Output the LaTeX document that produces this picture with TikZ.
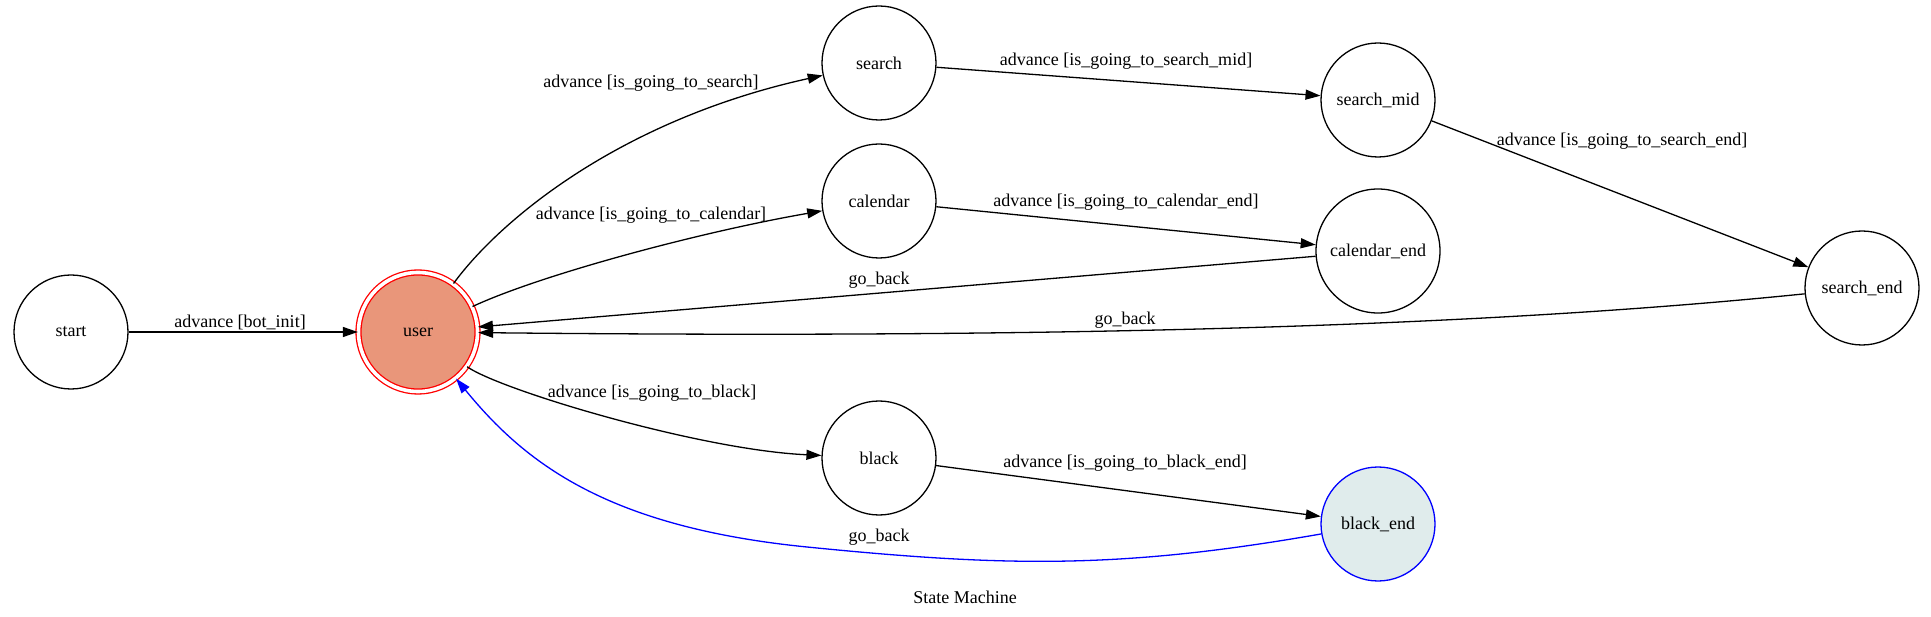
\documentclass[tikz,border=0pt]{standalone}
\usepackage{fontspec}
\setmainfont{Liberation Serif}
\usetikzlibrary{arrows.meta}
\definecolor{usrfill}{RGB}{233,150,122}
\definecolor{endfill}{RGB}{224,236,236}
\tikzset{%
    st/.style={circle, draw, line width=1.3pt, minimum size=114pt, inner sep=0pt, font=\fontsize{18}{20}\selectfont},
    acc/.style={st, draw=red, fill=usrfill, double=white, double distance=3.6pt, line width=1.3pt, minimum size=119pt},
    fin/.style={st, draw=blue, fill=endfill},
    lab/.style={inner sep=0pt, font=\fontsize{18}{20}\selectfont},
    tra/.style={line width=1.3pt, -{Triangle[length=15pt, width=10pt]}},
    trb/.style={tra, blue},
}
\begin{document}
\begin{tikzpicture}[x=1pt, y=-1pt]
    \useasboundingbox (0,0) rectangle (1931,617);
    \node[st] (start) at (71,332) {start};
    \node[acc] (user) at (418,332) {user};
    \node[st] (search) at (879,63) {search};
    \node[st] (calendar) at (879,201) {calendar};
    \node[st] (black) at (879,458) {black};
    \node[st] (smid) at (1378,100) {search\_mid};
    \node[st, minimum size=124pt] (cend) at (1378,251) {calendar\_end};
    \node[fin] (bend) at (1378,524) {black\_end};
    \node[st] (send) at (1862,288) {search\_end};
    \draw [tra] (start) -- (user);
    \draw [tra] (user) .. controls (500,220) and (620,120) .. (search);
    \draw [tra] (user) .. controls (540,275) and (700,232) .. (calendar);
    \draw [tra] (user) .. controls (500,390) and (700,450) .. (black);
    \draw [tra] (search) -- (smid);
    \draw [tra] (calendar) -- (cend);
    \draw [tra] (black) -- (bend);
    \draw [tra] (smid) -- (send);
    \draw [tra] (cend) -- (user);
    \draw [tra] (send) .. controls (1450,330) and (1000,338) .. (user);
    \draw [trb] (bend) .. controls (1121,569) and (1007,567) .. (807,547)
        .. controls (607,527) and (525,463) .. (user);
    \node[lab] (l1) at (240,322) {advance [bot\_init]};
    \node[lab] (l2) at (651,83) {advance [is\_going\_to\_search]};
    \node[lab] (l3) at (651,215) {advance [is\_going\_to\_calendar]};
    \node[lab] (l4) at (652,393) {advance [is\_going\_to\_black]};
    \node[lab] (l5) at (1126,61) {advance [is\_going\_to\_search\_mid]};
    \node[lab] (l6) at (1126,202) {advance [is\_going\_to\_calendar\_end]};
    \node[lab] (l7) at (1622,141) {advance [is\_going\_to\_search\_end]};
    \node[lab] (l8) at (1125,463) {advance [is\_going\_to\_black\_end]};
    \node[lab] (g1) at (879,280) {go\_back};
    \node[lab] (g2) at (1125,320) {go\_back};
    \node[lab] (g3) at (879,537) {go\_back};
    \node[lab] (title) at (965,597) {State Machine};
\end{tikzpicture}
\end{document}
